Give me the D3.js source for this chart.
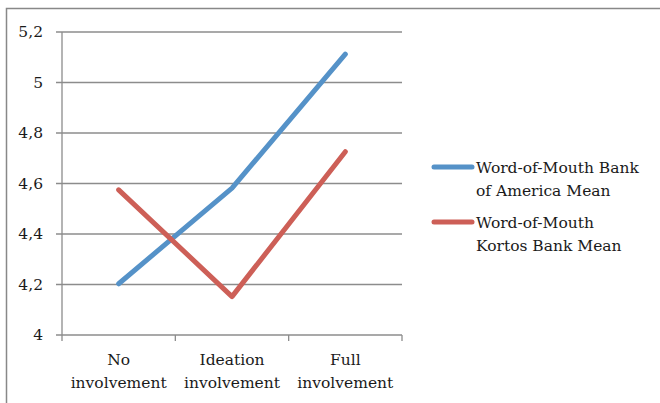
<!DOCTYPE html>
<html>
<head>
<meta charset="utf-8">
<script src="https://cdn.jsdelivr.net/npm/d3@7"></script>
<style>
  body { margin: 0; background: white; }
  svg text { font-family: "DejaVu Serif", serif; fill: #1a1a1a; }
</style>
</head>
<body>
<div class="chart"></div>
<script>
// data
const categories = [["No", "involvement"], ["Ideation", "involvement"], ["Full", "involvement"]];
const bankOfAmerica = [4.203, 4.582, 5.112];
const kortosBank = [4.575, 4.152, 4.726];
const yTicks = [4, 4.2, 4.4, 4.6, 4.8, 5, 5.2];
const seriesNames = [["Word-of-Mouth Bank", "of America Mean"], ["Word-of-Mouth", "Kortos Bank Mean"]];
const seriesColors = ["#5592c8", "#cd5f57"];

let svg = d3.select(".chart")
  .append("svg")
  .attr("width", 660)
  .attr("height", 403);

// outer frame (only top and left edges visible)
svg.append("rect")
  .attr("x", 6.5)
  .attr("y", 8.5)
  .attr("width", 700)
  .attr("height", 450)
  .attr("fill", "none")
  .attr("stroke", "#888")
  .attr("stroke-width", 1.5);

let plotLeft = 62, plotRight = 402, plotTop = 32, plotBottom = 335;

let x = d3.scaleBand()
  .domain(d3.range(categories.length))
  .range([plotLeft, plotRight]);

let y = d3.scaleLinear()
  .domain([4, 5.2])
  .range([plotBottom, plotTop]);

// gridlines
svg.append("g")
  .selectAll("line")
  .data(yTicks)
  .join("line")
  .attr("x1", plotLeft - 6)
  .attr("x2", plotRight)
  .attr("y1", d => y(d))
  .attr("y2", d => y(d))
  .attr("stroke", "#8c8c8c")
  .attr("stroke-width", 1.3);

// y axis line
svg.append("line")
  .attr("x1", plotLeft).attr("x2", plotLeft)
  .attr("y1", plotTop).attr("y2", plotBottom)
  .attr("stroke", "#8c8c8c")
  .attr("stroke-width", 1.3);

// x tick marks at category boundaries
let bounds = d3.range(categories.length + 1).map(i => i < categories.length ? x(i) : x(i - 1) + x.bandwidth());
svg.append("g")
  .selectAll("line")
  .data(bounds)
  .join("line")
  .attr("x1", d => d).attr("x2", d => d)
  .attr("y1", plotBottom).attr("y2", plotBottom + 6)
  .attr("stroke", "#8c8c8c")
  .attr("stroke-width", 1.3);

// y tick labels
svg.append("g")
  .selectAll("text")
  .data(yTicks)
  .join("text")
  .attr("x", 43)
  .attr("y", d => y(d))
  .attr("dy", "0.35em")
  .attr("text-anchor", "end")
  .style("font-size", "15.5px")
  .text(d => d3.format(".1~f")(d).replace(".", ","));

// x labels
let xl = svg.append("g")
  .selectAll("text")
  .data(categories)
  .join("text")
  .attr("text-anchor", "middle")
  .style("font-size", "15.5px");
xl.selectAll("tspan")
  .data((d, i) => d.map(s => ({ s, i })))
  .join("tspan")
  .attr("x", d => x(d.i) + x.bandwidth() / 2)
  .attr("y", (d, j) => 365 + j * 23)
  .text(d => d.s);

// lines
let line = d3.line()
  .x((d, i) => x(i) + x.bandwidth() / 2)
  .y(d => y(d));

[bankOfAmerica, kortosBank].forEach((vals, k) => {
  svg.append("path")
    .datum(vals)
    .attr("d", line)
    .attr("fill", "none")
    .attr("stroke", seriesColors[k])
    .attr("stroke-width", 5)
    .attr("stroke-linecap", "round")
    .attr("stroke-linejoin", "round");
});

// legend
let legendY = [167, 222];
seriesNames.forEach((lines, k) => {
  svg.append("line")
    .attr("x1", 434).attr("x2", 472)
    .attr("y1", legendY[k]).attr("y2", legendY[k])
    .attr("stroke", seriesColors[k])
    .attr("stroke-width", 5)
    .attr("stroke-linecap", "round");
  svg.append("text")
    .style("font-size", "15.5px")
    .selectAll("tspan")
    .data(lines)
    .join("tspan")
    .attr("x", 476)
    .attr("y", (d, j) => legendY[k] + 6 + j * 23)
    .text(d => d);
});
</script>
</body>
</html>
